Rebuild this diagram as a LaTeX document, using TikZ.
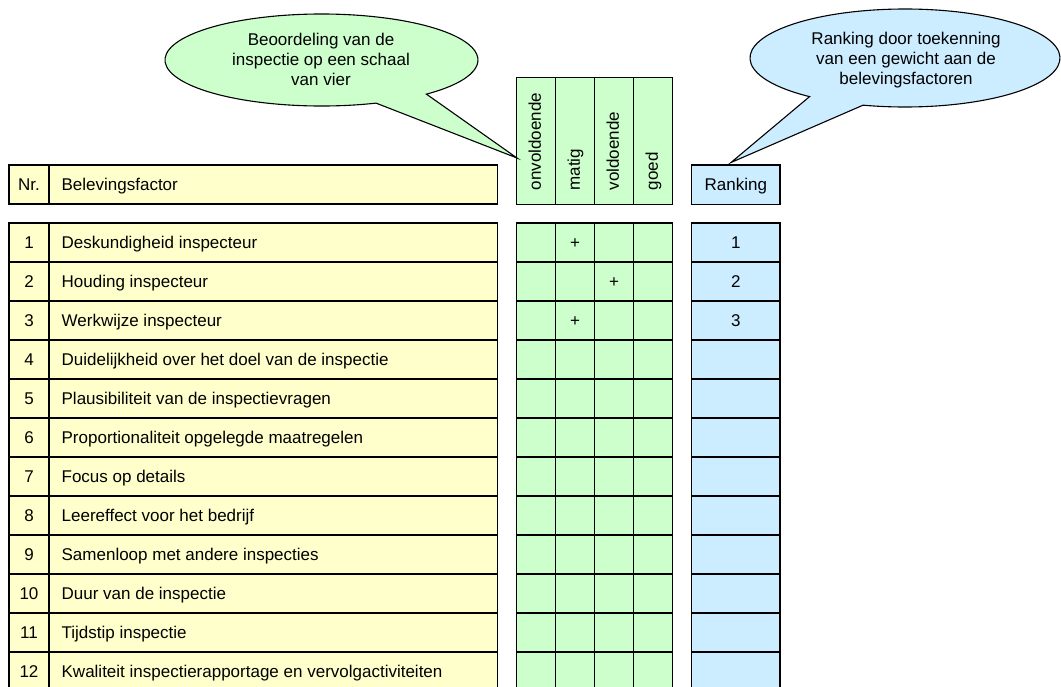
\documentclass[tikz,border=0pt]{standalone}
\usepackage{fontspec}
\setmainfont{Liberation Sans}
\definecolor{yel}{HTML}{FFFFCC}
\definecolor{grn}{HTML}{CCFFCC}
\definecolor{blu}{HTML}{CCECFF}
\begin{document}
\begin{tikzpicture}[x=1pt,y=-1pt, line width=1.3pt,
  font=\fontsize{17}{20}\selectfont,
  txt/.style={inner sep=0pt, anchor=base west},
  ctr/.style={inner sep=0pt, anchor=base},
  rot/.style={inner sep=0pt, rotate=90, anchor=west, text height=12pt, text depth=3.5pt},
  callout/.style={draw=black, line width=1.1pt, line join=miter}]
\clip (0,0) rectangle (1061,686);
% ---- left table ----
\draw[fill=yel] (9,165) rectangle (497.3,204);
\draw (49,165) -- (49,204);
\draw[fill=yel] (9,223) rectangle (497.3,691);
\draw (49,223) -- (49,691);
% ---- green grid ----
\draw[fill=grn] (516.7,77.3) rectangle (672.7,204.3);
\draw[fill=grn] (516.7,223) rectangle (672.7,691);
\foreach \x in {555.7,594.7,633.7} {
  \draw (\x,77.3) -- (\x,204.3);
  \draw (\x,223) -- (\x,691);
}
% ---- blue column ----
\draw[fill=blu] (691.7,165) rectangle (780,204.3);
\draw[fill=blu] (691.7,223) rectangle (780,691);
% ---- row lines ----
\foreach \k in {1,...,11} {
  \pgfmathsetmacro\yy{223+39*\k}
  \draw (9,\yy) -- (497.3,\yy);
  \draw (516.7,\yy) -- (672.7,\yy);
  \draw (691.7,\yy) -- (780,\yy);
}
% ---- header texts ----
\node[ctr] (nrh) at (29,190.5) {Nr.};
\node[txt] (bfh) at (61,190.5) {Belevingsfactor};
\node[ctr] (rkh) at (735.8,190.5) {Ranking};
\node[rot] (h1) at (536.5,191) {onvoldoende};
\node[rot] (h2) at (575.5,191) {matig};
\node[rot] (h3) at (614.5,191) {voldoende};
\node[rot] (h4) at (653.5,191) {goed};
% ---- rows ----
\foreach \i/\t in {1/Deskundigheid inspecteur,
  2/Houding inspecteur,
  3/Werkwijze inspecteur,
  4/Duidelijkheid over het doel van de inspectie,
  5/Plausibiliteit van de inspectievragen,
  6/Proportionaliteit opgelegde maatregelen,
  7/Focus op details,
  8/Leereffect voor het bedrijf,
  9/Samenloop met andere inspecties,
  10/Duur van de inspectie,
  11/Tijdstip inspectie,
  12/Kwaliteit inspectierapportage en vervolgactiviteiten} {
  \pgfmathsetmacro\bl{209.5+39*\i}
  \node[ctr] (n\i) at (29,\bl) {\i};
  \node[txt] (f\i) at (61,\bl) {\t};
}
% ---- marks ----
\node[ctr] (p1) at (575.2,248.5) {+};
\node[ctr] (p2) at (614.2,287.5) {+};
\node[ctr] (p3) at (575.2,326.5) {+};
\node[ctr] (r1) at (735.8,248.5) {1};
\node[ctr] (r2) at (735.8,287.5) {2};
\node[ctr] (r3) at (735.8,326.5) {3};
% ---- callouts ----
\coordinate (gtip) at (517,158);
\coordinate (btip) at (731,162.5);
\draw[callout, fill=grn] (321.5,60) ++(69.6:156.5 and 46)
  arc[start angle=69.6, end angle=407.9, x radius=156.5, y radius=46] -- (gtip) -- cycle;
\draw[callout, fill=blu] (905,58) ++(128:155 and 49)
  arc[start angle=128, end angle=465.7, x radius=155, y radius=49] -- (btip) -- cycle;
\node[align=center, inner sep=0pt] (gtext) at (321,59.5)
  {Beoordeling van de\\inspectie op een schaal\\van vier};
\node[align=center, inner sep=0pt] (btext) at (906,60)
  {Ranking door toekenning\\van een gewicht aan de\\belevingsfactoren};
\end{tikzpicture}
\end{document}
